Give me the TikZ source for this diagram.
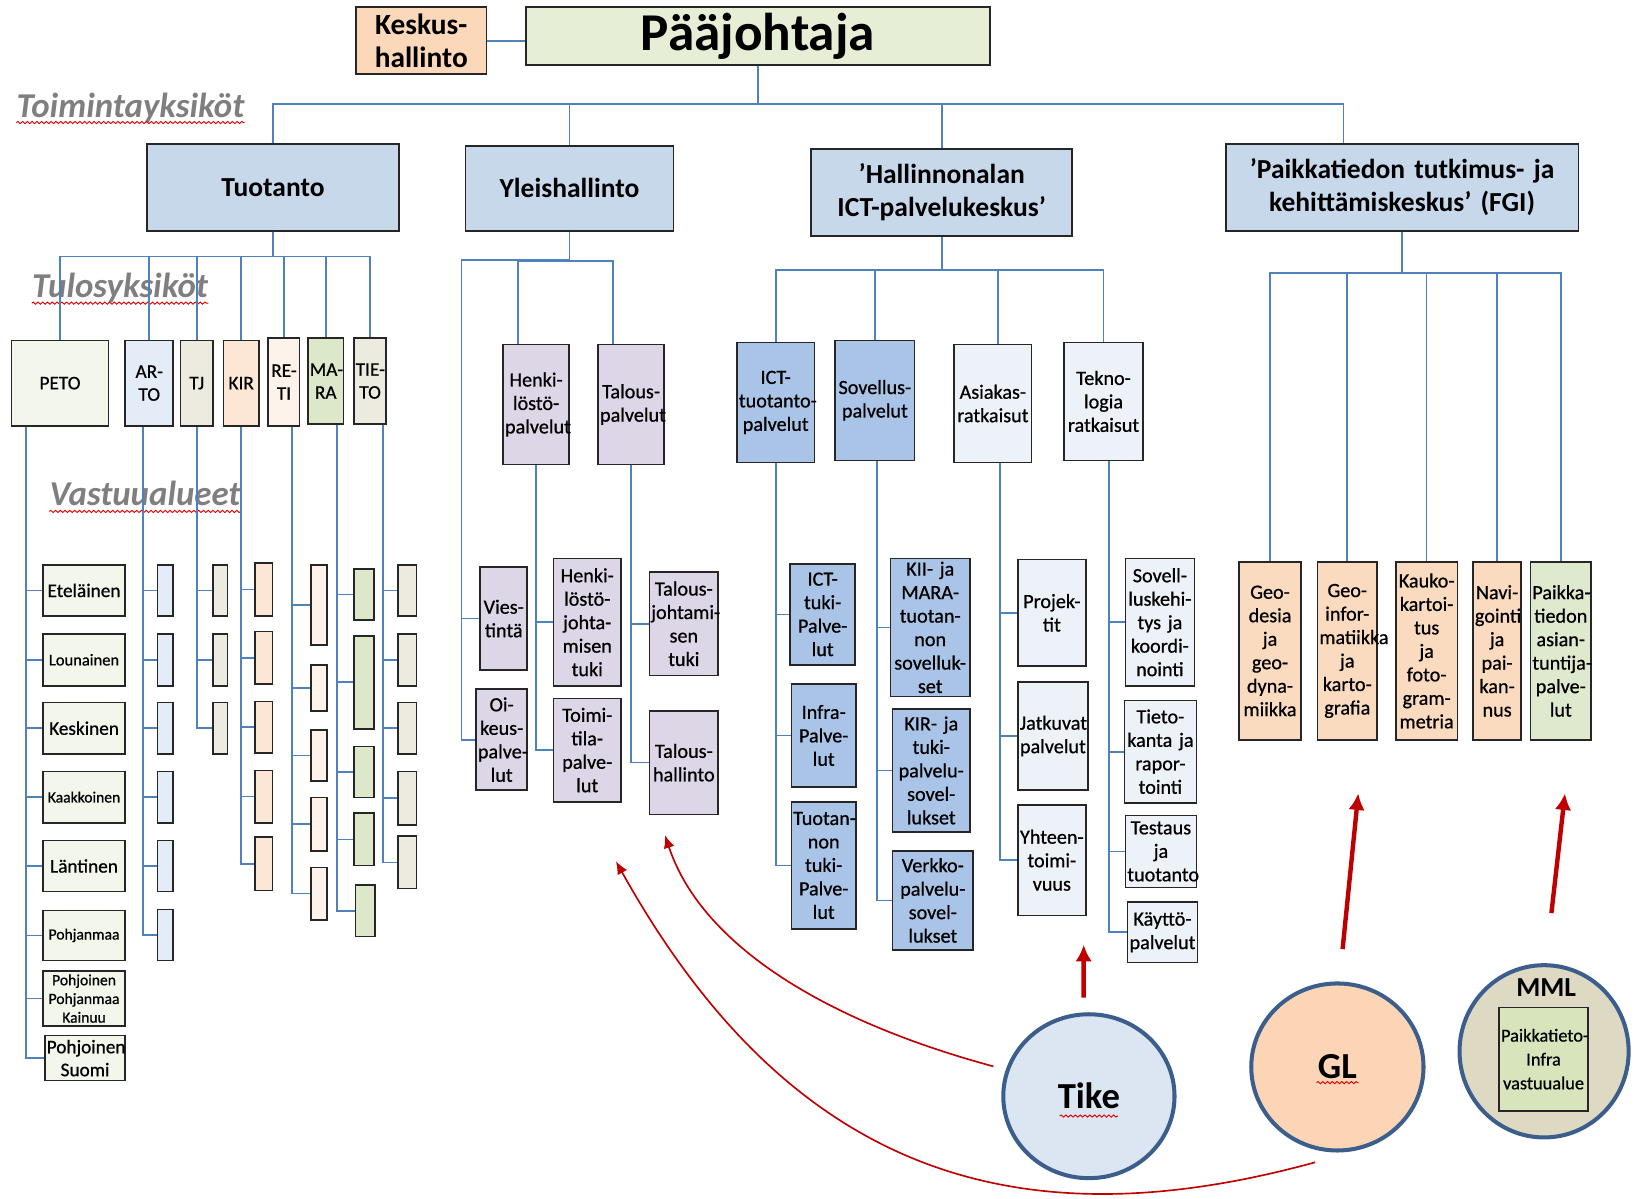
\documentclass[tikz,border=0pt]{standalone}
\usepackage{fontspec}
\setmainfont{Carlito}
\newfontfamily\cellfont{Carlito}[FakeBold=0.7]
\usepackage{tikz}
\usetikzlibrary{positioning}
\usetikzlibrary{arrows.meta}
\usetikzlibrary{shapes.geometric,decorations.pathmorphing}
\hyphenpenalty=10000
\exhyphenpenalty=10000

\definecolor{lineblue}{HTML}{4F81BD}
\definecolor{boxline}{HTML}{262626}
\definecolor{headgray}{HTML}{7F7F7F}
\definecolor{keskfill}{HTML}{FCD8BA}
\definecolor{paafill}{HTML}{E6EED6}
\definecolor{lvlone}{HTML}{C8D8EB}
\definecolor{petofill}{HTML}{F3F6EB}
\definecolor{artofill}{HTML}{E4ECF7}
\definecolor{tjfill}{HTML}{EDEBE0}
\definecolor{kirfill}{HTML}{FCE7D6}
\definecolor{retifill}{HTML}{FEF3EA}
\definecolor{marafill}{HTML}{DDE8CB}
\definecolor{lavfill}{HTML}{DDD6E6}
\definecolor{ictfill}{HTML}{A9C4E7}
\definecolor{palefill}{HTML}{EDF1F8}
\definecolor{fgifill}{HTML}{FADBBF}
\definecolor{expfill}{HTML}{DFE9CD}
\definecolor{tikefill}{HTML}{DCE6F2}
\definecolor{glfill}{HTML}{FBD5B5}
\definecolor{mmlfill}{HTML}{DDD9C3}
\definecolor{infrafill}{HTML}{D7E4BC}
\definecolor{circline}{HTML}{3B5E8C}
\definecolor{arrred}{HTML}{C00000}

\begin{document}
\begin{tikzpicture}[
        x=0.02cm, y=-0.02cm,
        box/.style={
            draw=boxline,
            line width=0.9pt,
            align=center,
            inner sep=1pt
        },
        cell/.style 2 args={box, text width=#1*0.02cm-2pt, minimum height=#2*0.02cm},
        txt/.style={font=\cellfont\fontsize{11}{12.8}\selectfont},
        ufont/.style={font=\cellfont\fontsize{10.5}{12.5}\selectfont},
        head/.style={font=\fontsize{15}{18}\selectfont\bfseries},
        grp/.style={font=\fontsize{19}{22}\selectfont\bfseries\itshape, text=headgray, inner sep=0pt},
        squig/.style={draw=red!90!black, line width=0.5pt, decorate,
            decoration={snake, amplitude=0.6pt, segment length=2.6pt}},
        link/.style={draw=lineblue, line width=0.9pt},
        org/.style={ellipse, draw=circline, line width=2.2pt, inner sep=0pt,
            font=\fontsize{20}{24}\selectfont\bfseries},
        push/.style={draw=arrred, line width=2.4pt, -{Latex[length=9pt, width=9pt]}},
        sweep/.style={draw=arrred, line width=0.9pt, -{Latex[length=7pt, width=6pt]}}
    ]
    \useasboundingbox (0,0) rectangle (1568,1148);

    % top
    \node[cell={125}{64}, fill=keskfill, font=\fontsize{16}{18}\selectfont\bfseries] (kesk) at (403.5,39) {Keskus-\\hallinto};
    \node[cell={448}{55}, fill=paafill, font=\fontsize{29}{32}\selectfont\bfseries, inner sep=0pt] (paa) at (726,34.5) {Pääjohtaja};
    \draw[link] (kesk.east) -- (kesk.east -| paa.west);

    \node[grp] (ty) at (125,103) {Toimintayksiköt};
    \node[grp] (tu) at (115,276) {Tulosyksiköt};
    \node[grp] (va) at (139,473) {Vastuualueet};
    \draw[squig] ([yshift=-3pt]ty.base west) -- ([yshift=-3pt]ty.base east);
    \draw[squig] ([yshift=-3pt]tu.base west) -- ([yshift=-3pt]tu.base east);
    \draw[squig] ([yshift=-3pt]va.base west) -- ([yshift=-3pt]va.base east);

    \node[cell={241}{83}, fill=lvlone, head] (tuot) at (261.5,179.5) {Tuotanto};
    \node[cell={199}{81}, fill=lvlone, head] (ylh) at (545.5,180.5) {Yleishallinto};
    \node[cell={250}{83}, fill=lvlone, head] (ictc) at (902,184.5) {’Hallinnonalan\\ICT-palvelukeskus’};
    \node[cell={338}{83}, fill=lvlone, head] (fgi) at (1343,179.5) {’Paikkatiedon tutkimus- ja\\kehittämiskeskus’ (FGI)};

    \draw[link] (paa.south) -- ++(0,37) -| (tuot.north);
    \draw[link] (paa.south) -- ++(0,37) -| (ylh.north);
    \draw[link] (paa.south) -- ++(0,37) -| (ictc.north);
    \draw[link] (paa.south) -- ++(0,37) -| ([xshift=-1.12cm]fgi.north);

    % Tuotanto
    \node[cell={93}{82}, fill=petofill, ufont] (peto) at (57.5,367) {PETO};
    \node[cell={46}{82}, fill=artofill, ufont] (arto) at (143,367) {AR-\\TO};
    \node[cell={31}{82}, fill=tjfill, ufont] (tj) at (188.5,367) {TJ};
    \node[cell={34}{82}, fill=kirfill, ufont] (kir) at (231,367) {KIR};
    \node[cell={30}{84}, fill=retifill, ufont] (reti) at (272,366) {RE-\\TI};
    \node[cell={34}{82}, fill=marafill, ufont] (mara) at (312,365) {MA-\\RA};
    \node[cell={31}{82}, fill=tjfill, ufont] (tieto) at (354.5,365) {TIE-\\TO};

    \draw[link] (tuot.south) -- ++(0,24) -| (peto.north);
    \draw[link] (tuot.south) -- ++(0,24) -| (arto.north);
    \draw[link] (tuot.south) -- ++(0,24) -| (tj.north);
    \draw[link] (tuot.south) -- ++(0,24) -| (kir.north);
    \draw[link] (tuot.south) -- ++(0,24) -| (reti.north);
    \draw[link] (tuot.south) -- ++(0,24) -| (mara.north);
    \draw[link] (tuot.south) -- ++(0,24) -| (tieto.north);

    \node[cell={79}{49}, fill=petofill, ufont] (e1) at (80.5,565.5) {Eteläinen};
    \node[cell={79}{50}, fill=petofill, font=\cellfont\fontsize{9}{11}\selectfont] (e2) at (80.5,632) {Lounainen};
    \node[cell={79}{49}, fill=petofill, ufont] (e3) at (80.5,697.5) {Keskinen};
    \node[cell={79}{49}, fill=petofill, font=\cellfont\fontsize{8.5}{10}\selectfont] (e4) at (80.5,763.5) {Kaakkoinen};
    \node[cell={79}{49}, fill=petofill, ufont] (e5) at (80.5,829.5) {Läntinen};
    \node[cell={79}{48}, fill=petofill, font=\cellfont\fontsize{8.5}{10}\selectfont] (e6) at (80.5,896) {Pohjanmaa};
    \node[cell={79}{53}, fill=petofill, font=\cellfont\fontsize{8.5}{10.2}\selectfont] (e7) at (80.5,956.5) {Pohjoinen\\Pohjanmaa\\Kainuu};
    \node[cell={77}{43}, fill=petofill, ufont] (e8) at (81.5,1013.5) {Pohjoinen\\Suomi};
    \draw[link] ([xshift=-0.65cm]peto.south) |- (e1.west);
    \draw[link] ([xshift=-0.65cm]peto.south) |- (e2.west);
    \draw[link] ([xshift=-0.65cm]peto.south) |- (e3.west);
    \draw[link] ([xshift=-0.65cm]peto.south) |- (e4.west);
    \draw[link] ([xshift=-0.65cm]peto.south) |- (e5.west);
    \draw[link] ([xshift=-0.65cm]peto.south) |- (e6.west);
    \draw[link] ([xshift=-0.65cm]peto.south) |- (e7.west);
    \draw[link] ([xshift=-0.65cm]peto.south) |- (e8.west);

    \node[cell={15}{49}, fill=artofill] (a1) at (158.5,565.5) {};
    \node[cell={15}{50}, fill=artofill] (a2) at (158.5,632) {};
    \node[cell={15}{49}, fill=artofill] (a3) at (158.5,697.5) {};
    \node[cell={15}{49}, fill=artofill] (a4) at (158.5,763.5) {};
    \node[cell={15}{49}, fill=artofill] (a5) at (158.5,829.5) {};
    \node[cell={15}{49}, fill=artofill] (a6) at (158.5,895.5) {};
    \draw[link] ([xshift=-0.12cm]arto.south) |- (a1.west);
    \draw[link] ([xshift=-0.12cm]arto.south) |- (a2.west);
    \draw[link] ([xshift=-0.12cm]arto.south) |- (a3.west);
    \draw[link] ([xshift=-0.12cm]arto.south) |- (a4.west);
    \draw[link] ([xshift=-0.12cm]arto.south) |- (a5.west);
    \draw[link] ([xshift=-0.12cm]arto.south) |- (a6.west);

    \node[cell={14}{49}, fill=tjfill] (t1) at (211,565.5) {};
    \node[cell={14}{50}, fill=tjfill] (t2) at (211,632) {};
    \node[cell={14}{49}, fill=tjfill] (t3) at (211,697.5) {};
    \draw[link] (tj.south) |- (t1.west);
    \draw[link] (tj.south) |- (t2.west);
    \draw[link] (tj.south) |- (t3.west);

    \node[cell={17}{51}, fill=kirfill] (k1) at (252.5,564.5) {};
    \node[cell={17}{50}, fill=kirfill] (k2) at (252.5,630) {};
    \node[cell={17}{49}, fill=kirfill] (k3) at (252.5,696.5) {};
    \node[cell={17}{50}, fill=kirfill] (k4) at (252.5,763) {};
    \node[cell={17}{51}, fill=kirfill] (k5) at (252.5,827.5) {};
    \draw[link] (kir.south) |- (k1.west);
    \draw[link] (kir.south) |- (k2.west);
    \draw[link] (kir.south) |- (k3.west);
    \draw[link] (kir.south) |- (k4.west);
    \draw[link] (kir.south) |- (k5.west);

    \node[cell={15}{77}, fill=retifill] (r1) at (305.5,579.5) {};
    \node[cell={15}{44}, fill=retifill] (r2) at (305.5,659) {};
    \node[cell={15}{49}, fill=retifill] (r3) at (305.5,723.5) {};
    \node[cell={15}{51}, fill=retifill] (r4) at (305.5,789.5) {};
    \node[cell={15}{50}, fill=retifill] (r5) at (305.5,856) {};
    \draw[link] ([xshift=0.16cm]reti.south) |- (r1.west);
    \draw[link] ([xshift=0.16cm]reti.south) |- (r2.west);
    \draw[link] ([xshift=0.16cm]reti.south) |- (r3.west);
    \draw[link] ([xshift=0.16cm]reti.south) |- (r4.west);
    \draw[link] ([xshift=0.16cm]reti.south) |- (r5.west);

    \node[cell={19}{49}, fill=marafill] (m1) at (348.5,569.5) {};
    \node[cell={19}{89}, fill=marafill] (m2) at (348.5,653.5) {};
    \node[cell={19}{49}, fill=marafill] (m3) at (348.5,739.5) {};
    \node[cell={19}{50}, fill=marafill] (m4) at (348.5,804) {};
    \node[cell={19}{49}, fill=marafill] (m5) at (350,872.5) {};
    \draw[link] ([xshift=0.22cm]mara.south) |- (m1.west);
    \draw[link] ([xshift=0.22cm]mara.south) |- (m2.west);
    \draw[link] ([xshift=0.22cm]mara.south) |- (m3.west);
    \draw[link] ([xshift=0.22cm]mara.south) |- (m4.west);
    \draw[link] ([xshift=0.22cm]mara.south) |- (m5.west);

    \node[cell={18}{49}, fill=tjfill] (s1) at (390,565.5) {};
    \node[cell={18}{50}, fill=tjfill] (s2) at (390,632) {};
    \node[cell={18}{49}, fill=tjfill] (s3) at (390,697.5) {};
    \node[cell={18}{51}, fill=tjfill] (s4) at (390,764.5) {};
    \node[cell={18}{50}, fill=tjfill] (s5) at (390,826) {};
    \draw[link] ([xshift=0.25cm]tieto.south) |- (s1.west);
    \draw[link] ([xshift=0.25cm]tieto.south) |- (s2.west);
    \draw[link] ([xshift=0.25cm]tieto.south) |- (s3.west);
    \draw[link] ([xshift=0.25cm]tieto.south) |- (s4.west);
    \draw[link] ([xshift=0.25cm]tieto.south) |- (s5.west);

    % Yleishallinto
    \node[cell={63}{115}, fill=lavfill, txt] (henk) at (513.5,387.5) {Henki-\\löstö-\\palvelut};
    \node[cell={63}{115}, fill=lavfill, txt] (talp) at (604.5,387.5) {Talous-\\palvelut};
    \coordinate (yltrunk) at (442,249);
    \draw[link] (ylh.south) |- (yltrunk);
    \draw[link] (ylh.south) -- ++(0,28) -| ([xshift=-0.35cm]henk.north);
    \draw[link] (ylh.south) -- ++(0,28) -| ([xshift=-0.35cm]talp.north);

    \node[cell={45}{99}, fill=lavfill, txt] (vies) at (482.5,592.5) {Vies-\\tintä};
    \node[cell={49}{97}, fill=lavfill, txt] (oik) at (480.5,708.5) {Oi-\\keus-\\palve-\\lut};
    \node[cell={65}{122}, fill=lavfill, txt] (hjt) at (562.5,596) {Henki-\\löstö-\\johta-\\misen\\tuki};
    \node[cell={65}{99}, fill=lavfill, txt] (toim) at (562.5,718.5) {Toimi-\\tila-\\palve-\\lut};
    \node[cell={66}{99}, fill=lavfill, txt] (tjt) at (655,597.5) {Talous-\\johtami-\\sen\\tuki};
    \node[cell={66}{99}, fill=lavfill, txt] (talh) at (655,730.5) {Talous-\\hallinto};
    \draw[link] (yltrunk) |- (vies.west);
    \draw[link] (yltrunk) |- (oik.west);
    \draw[link] (henk.south) |- (hjt.west);
    \draw[link] (henk.south) |- (toim.west);
    \draw[link] (talp.south) |- (tjt.west);
    \draw[link] (talp.south) |- (talh.west);

    % ICT-palvelukeskus
    \node[cell={74}{115}, fill=ictfill, txt] (ictt) at (743,385.5) {ICT-\\tuotanto-\\palvelut};
    \node[cell={76}{115}, fill=ictfill, txt] (sov) at (838,383.5) {Sovellus-\\palvelut};
    \node[cell={74}{113}, fill=palefill, txt] (asi) at (951,386.5) {Asiakas-\\ratkaisut};
    \node[cell={76}{113}, fill=palefill, txt] (tek) at (1057,384.5) {Tekno-\\logia\\ratkaisut};
    \draw[link] (ictc.south) -- ++(0,32) -| (ictt.north);
    \draw[link] (ictc.south) -- ++(0,32) -| (sov.north);
    \draw[link] (ictc.south) -- ++(0,32) -| ([xshift=0.1cm]asi.north);
    \draw[link] (ictc.south) -- ++(0,32) -| (tek.north);

    \node[cell={62}{97}, fill=ictfill, txt] (ictk) at (788,588.5) {ICT-\\tuki-\\Palve-\\lut};
    \node[cell={62}{99}, fill=ictfill, txt] (infra) at (789,704.5) {Infra-\\Palve-\\lut};
    \node[cell={62}{122}, fill=ictfill, txt] (tuotk) at (789,829) {Tuotan-\\non\\tuki-\\Palve-\\lut};
    \draw[link] (ictt.south) |- (ictk.west);
    \draw[link] (ictt.south) |- (infra.west);
    \draw[link] (ictt.south) |- (tuotk.west);

    \node[cell={76}{132}, fill=ictfill, txt] (kii) at (891,601) {KII- ja\\MARA-\\tuotan-\\non\\sovelluk-\\set};
    \node[cell={74}{118}, fill=ictfill, txt] (kirs) at (892,738) {KIR- ja\\tuki-\\palvelu-\\sovel-\\lukset};
    \node[cell={77}{95}, fill=ictfill, txt] (verk) at (893.5,862.5) {Verkko-\\palvelu-\\sovel-\\lukset};
    \draw[link] ([xshift=0.04cm]sov.south) |- (kii.west);
    \draw[link] ([xshift=0.04cm]sov.south) |- (kirs.west);
    \draw[link] ([xshift=0.04cm]sov.south) |- (verk.west);

    \node[cell={65}{102}, fill=palefill, txt] (proj) at (1007.5,587) {Projek-\\tit};
    \node[cell={67}{104}, fill=palefill, txt] (jatk) at (1008.5,705) {Jatkuvat\\palvelut};
    \node[cell={65}{106}, fill=palefill, txt] (yht) at (1007.5,824) {Yhteen-\\toimi-\\vuus};
    \draw[link] ([xshift=0.14cm]asi.south) |- (proj.west);
    \draw[link] ([xshift=0.14cm]asi.south) |- (jatk.west);
    \draw[link] ([xshift=0.14cm]asi.south) |- (yht.west);

    \node[cell={66}{122}, fill=palefill, txt] (sovk) at (1111,596) {Sovell-\\luskehi-\\tys ja\\koordi-\\nointi};
    \node[cell={69}{98}, fill=palefill, txt] (tiet) at (1111.5,720) {Tieto-\\kanta ja\\rapor-\\tointi};
    \node[cell={68}{69}, fill=palefill, txt] (test) at (1112,815.5) {Testaus\\ja\\tuotanto};
    \node[cell={67}{58}, fill=palefill, txt] (kayt) at (1113.5,893) {Käyttö-\\palvelut};
    \draw[link] ([xshift=0.1cm]tek.south) |- (sovk.west);
    \draw[link] ([xshift=0.1cm]tek.south) |- (tiet.west);
    \draw[link] ([xshift=0.1cm]tek.south) |- (test.west);
    \draw[link] ([xshift=0.1cm]tek.south) |- (kayt.west);

    % FGI
    \node[cell={59}{171}, fill=fgifill, txt] (geod) at (1216.5,623.5) {Geo-\\desia\\ja\\geo-\\dyna-\\miikka};
    \node[cell={57}{171}, fill=fgifill, txt] (geoi) at (1290.5,623.5) {Geo-\\infor-\\matiikka\\ja\\karto-\\grafia};
    \node[cell={59}{171}, fill=fgifill, txt] (kauk) at (1366.5,623.5) {Kauko-\\kartoi-\\tus\\ja\\foto-\\gram-\\metria};
    \node[cell={46}{171}, fill=fgifill, txt] (navi) at (1434,623.5) {Navi-\\gointi\\ja\\pai-\\kan-\\nus};
    \node[cell={58}{171}, fill=expfill, txt] (asia) at (1495,623.5) {Paikka-\\tiedon\\asian-\\tuntija-\\palve-\\lut};
    \draw[link] (fgi.south) -- ++(0,40) -| (geod.north);
    \draw[link] (fgi.south) -- ++(0,40) -| (geoi.north);
    \draw[link] (fgi.south) -- ++(0,40) -| (kauk.north);
    \draw[link] (fgi.south) -- ++(0,40) -| (navi.north);
    \draw[link] (fgi.south) -- ++(0,40) -| (asia.north);

    % partners
    \node[org, fill=tikefill, minimum width=164*0.02cm, minimum height=157*0.02cm] (tike) at (1043,1050) {Tike};
    \node[org, fill=glfill, minimum width=165*0.02cm, minimum height=160*0.02cm] (gl) at (1281,1022) {GL};
    \node[org, fill=mmlfill, minimum width=162*0.02cm, minimum height=165*0.02cm] (mml) at (1479,1007) {};
    \node[font=\fontsize{15}{18}\selectfont\bfseries] (mmllab) at (1481,946) {MML};
    \node[cell={85}{99}, fill=infrafill, font=\cellfont\fontsize{10}{13}\selectfont] (infrabox) at (1478.5,1014.5) {Paikkatieto-\\Infra\\vastuualue};
    \draw[squig] ([xshift=-0.56cm,yshift=-0.38cm]tike.center) -- ([xshift=0.56cm,yshift=-0.38cm]tike.center);
    \draw[squig] ([xshift=-0.4cm,yshift=-0.3cm]gl.center) -- ([xshift=0.4cm,yshift=-0.3cm]gl.center);

    \coordinate (tikeup) at (1038,905);
    \coordinate (glup) at (1301,760);
    \coordinate (mmlup) at (1499,760);
    \coordinate (tip1) at (637,800);
    \coordinate (tip2) at (590,825);
    \draw[push] ([xshift=-0.1cm,yshift=0.28cm]tike.north) -- (tikeup);
    \draw[push] ([xshift=0.1cm,yshift=0.62cm]gl.north) -- (glup);
    \draw[push] ([xshift=0.14cm,yshift=0.96cm]mml.north) -- (mmlup);
    \draw[sweep] ([xshift=-0.26cm]tike.160) .. controls (780,975) and (670,900) .. (tip1);
    \draw[sweep] ([yshift=-0.24cm]gl.-105) .. controls (980,1190) and (760,1130) .. (tip2);

\end{tikzpicture}
\end{document}
